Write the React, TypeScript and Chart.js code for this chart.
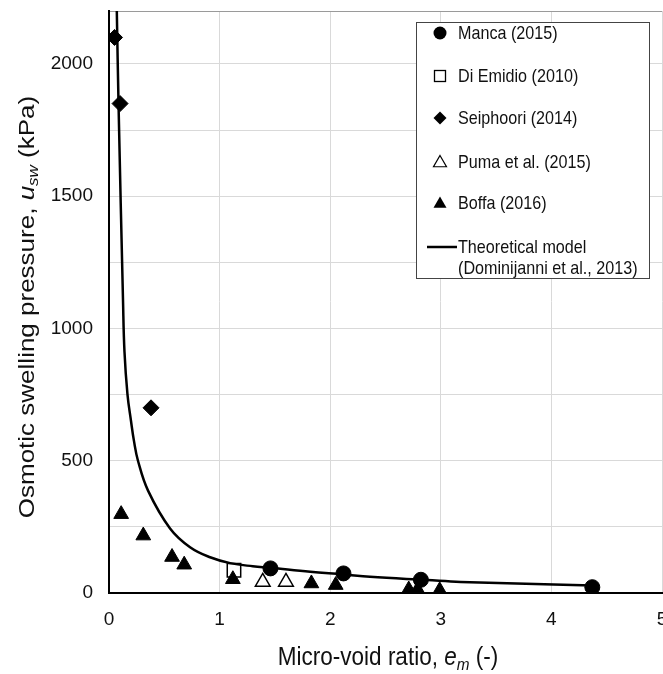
import React, { useEffect, useRef } from 'react';
import { Chart, registerables } from 'chart.js';

Chart.register(...registerables);

const FONT = "'Liberation Sans', Arial, sans-serif";
const NARROW = "'Liberation Sans Narrow', 'Arial Narrow', 'Liberation Sans', Arial, sans-serif";

// ---- data ----
const mancaX = [1.46, 2.12, 2.82, 4.37];
const mancaY = [93, 74, 50, 22];

const diEmidioX = [1.13];
const diEmidioY = [86];

const seiphooriX = [0.05, 0.1, 0.38];
const seiphooriY = [2100, 1850, 700];

const pumaX = [1.39, 1.6];
const pumaY = [42, 42];

const boffaX = [0.11, 0.31, 0.57, 0.68, 1.12, 1.83, 2.05, 2.71, 2.79, 2.99];
const boffaY = [298, 217, 136, 107, 52, 36, 30, 13, 13, 10];

const modelX = [0.0706, 0.086, 0.127, 0.14, 0.167, 0.199, 0.226, 0.262, 0.353, 0.552, 0.733, 0.914, 1.095, 1.3, 1.46, 1.82, 2.12, 2.36, 2.875, 3.18, 4.02, 4.37];
const modelY = [2200, 1851, 1100, 912, 751, 650, 574, 500, 387, 244, 173, 135, 113, 101, 95, 80, 70, 61, 49, 42, 32, 28];

const xMin = 0;
const xMax = 5;
const xStep = 1;
const yMin = 0;
const yMax = 2200;
const yTickValues = [0, 250, 500, 750, 1000, 1250, 1500, 1750, 2000, 2200];
const yLabelValues = [0, 500, 1000, 1500, 2000];

const legendLabels = [
  'Manca (2015)',
  'Di Emidio (2010)',
  'Seiphoori (2014)',
  'Puma et al. (2015)',
  'Boffa (2016)',
  'Theoretical model',
  '(Dominijanni et al., 2013)',
];

const zip = (xs: number[], ys: number[]) => xs.map((x, i) => ({ x, y: ys[i] }));

function drawScaledText(
  ctx: CanvasRenderingContext2D,
  parts: { t: string; font: string; dy?: number }[],
  x: number,
  y: number,
  align: 'left' | 'center',
  sx: number
) {
  let total = 0;
  const widths = parts.map((p) => {
    ctx.font = p.font;
    const w = ctx.measureText(p.t).width;
    total += w;
    return w;
  });
  ctx.save();
  ctx.translate(x, y);
  ctx.scale(sx, 1);
  let cx = align === 'center' ? -total / 2 : 0;
  parts.forEach((p, i) => {
    ctx.font = p.font;
    ctx.fillText(p.t, cx, p.dy || 0);
    cx += widths[i];
  });
  ctx.restore();
}

const customPlugin = {
  id: 'customDraw',
  afterDraw(chart: any) {
    const ctx: CanvasRenderingContext2D = chart.ctx;
    ctx.save();
    ctx.fillStyle = '#111';
    ctx.textBaseline = 'alphabetic';
    ctx.textAlign = 'left';

    // x axis title
    drawScaledText(
      ctx,
      [
        { t: 'Micro-void ratio, ', font: `25px ${FONT}` },
        { t: 'e', font: `italic 25px ${FONT}` },
        { t: 'm', font: `italic 17px ${FONT}`, dy: 5 },
        { t: ' (-)', font: `25px ${FONT}` },
      ],
      388,
      665,
      'center',
      0.9
    );

    // y axis title (rotated)
    ctx.save();
    ctx.translate(34, 307);
    ctx.scale(0.82, 1);
    ctx.rotate(-Math.PI / 2);
    const yParts = [
      { t: 'Osmotic swelling pressure, ', font: `26px ${FONT}`, dy: 0 },
      { t: 'u', font: `italic 26px ${FONT}`, dy: 0 },
      { t: 'sw', font: `italic 17px ${FONT}`, dy: 5 },
      { t: ' (kPa)', font: `26px ${FONT}`, dy: 0 },
    ];
    let tot = 0;
    const ws = yParts.map((p) => {
      ctx.font = p.font;
      const w = ctx.measureText(p.t).width;
      tot += w;
      return w;
    });
    let cx = -tot / 2;
    yParts.forEach((p, i) => {
      ctx.font = p.font;
      ctx.fillText(p.t, cx, p.dy);
      cx += ws[i];
    });
    ctx.restore();

    // legend
    const bx = 416.5, by = 22.5, bw = 233, bh = 256;
    ctx.fillStyle = '#fff';
    ctx.fillRect(bx, by, bw, bh);
    ctx.strokeStyle = '#444';
    ctx.lineWidth = 1;
    ctx.strokeRect(bx, by, bw, bh);

    const mx = 440;
    const rows = [33, 76, 118, 162, 203, 247, 268];
    ctx.fillStyle = '#000';
    ctx.strokeStyle = '#000';
    ctx.beginPath();
    ctx.arc(mx, rows[0], 6.5, 0, Math.PI * 2);
    ctx.fill();
    ctx.lineWidth = 1.3;
    ctx.strokeRect(mx - 5.5, rows[1] - 5.5, 11, 11);
    ctx.beginPath();
    ctx.moveTo(mx, rows[2] - 6.5);
    ctx.lineTo(mx + 6.5, rows[2]);
    ctx.lineTo(mx, rows[2] + 6.5);
    ctx.lineTo(mx - 6.5, rows[2]);
    ctx.closePath();
    ctx.fill();
    const tri = (cy: number, fill: boolean) => {
      const r = 7.5;
      ctx.beginPath();
      for (let k = 0; k < 3; k++) {
        const a = (k * 2 * Math.PI) / 3;
        const px = mx + Math.sin(a) * r;
        const py = cy + 1 - Math.cos(a) * r;
        if (k === 0) ctx.moveTo(px, py);
        else ctx.lineTo(px, py);
      }
      ctx.closePath();
      if (fill) ctx.fill();
      else {
        ctx.lineWidth = 1.2;
        ctx.stroke();
      }
    };
    tri(rows[3], false);
    tri(rows[4], true);
    ctx.lineWidth = 2.5;
    ctx.beginPath();
    ctx.moveTo(427, rows[5]);
    ctx.lineTo(457, rows[5]);
    ctx.stroke();

    ctx.fillStyle = '#111';
    ctx.textBaseline = 'middle';
    legendLabels.forEach((lab, i) => {
      drawScaledText(ctx, [{ t: lab, font: `19px ${FONT}` }], 458, rows[i] + 1, 'left', 0.85);
    });
    ctx.restore();
  },
};

export default function App() {
  const ref = useRef<HTMLCanvasElement | null>(null);

  useEffect(() => {
    if (!ref.current) return;
    const chart = new Chart(ref.current, {
      type: 'scatter',
      data: {
        datasets: [
          {
            label: legendLabels[0],
            data: zip(mancaX, mancaY),
            pointStyle: 'circle',
            pointRadius: 7.5,
            backgroundColor: '#000',
            borderColor: '#000',
            borderWidth: 1,
          },
          {
            label: legendLabels[2],
            data: zip(seiphooriX, seiphooriY),
            pointStyle: 'rectRot',
            pointRadius: 8,
            backgroundColor: '#000',
            borderColor: '#000',
            borderWidth: 1,
          },
          {
            label: legendLabels[1],
            data: zip(diEmidioX, diEmidioY),
            pointStyle: 'rect',
            pointRadius: 9.5,
            backgroundColor: 'rgba(255,255,255,0)',
            borderColor: '#000',
            borderWidth: 1.5,
          },
          {
            label: legendLabels[3],
            data: zip(pumaX, pumaY),
            pointStyle: 'triangle',
            pointRadius: 8.5,
            backgroundColor: '#fff',
            borderColor: '#000',
            borderWidth: 1.5,
          },
          {
            label: legendLabels[4],
            data: zip(boffaX, boffaY),
            pointStyle: 'triangle',
            pointRadius: 8.5,
            backgroundColor: '#000',
            borderColor: '#000',
            borderWidth: 1,
          },
          {
            type: 'line',
            label: legendLabels[5],
            data: zip(modelX, modelY),
            showLine: true,
            borderColor: '#000',
            borderWidth: 2.5,
            pointRadius: 0,
            fill: false,
            tension: 0.4,
          } as any,
        ],
      },
      options: {
        responsive: false,
        animation: false,
        devicePixelRatio: 1,
        layout: { padding: { top: 7, right: 58, left: 0, bottom: 0 } },
        plugins: {
          legend: { display: false },
          tooltip: { enabled: false },
        },
        scales: {
          x: {
            type: 'linear',
            min: xMin,
            max: xMax,
            ticks: {
              stepSize: xStep,
              padding: 15,
              color: '#111',
              font: { family: NARROW, size: 19 },
              maxRotation: 0,
            },
            grid: { color: '#d9d9d9', lineWidth: 1, drawTicks: false },
            border: { color: '#000', width: 2 },
            afterFit: (s: any) => {
              s.height = 81;
              s.paddingLeft = 0;
              s.paddingRight = 0;
            },
          },
          y: {
            type: 'linear',
            min: yMin,
            max: yMax,
            afterBuildTicks: (s: any) => {
              s.ticks = yTickValues.map((v) => ({ value: v }));
            },
            ticks: {
              padding: 16,
              color: '#111',
              font: { family: NARROW, size: 19 },
              callback: (v: any) => (yLabelValues.includes(Number(v)) ? String(v) : ''),
            },
            grid: {
              color: (c: any) => (c.tick && c.tick.value === yMax ? '#9a9a9a' : '#d9d9d9'),
              lineWidth: 1,
              drawTicks: false,
            },
            border: { color: '#000', width: 2 },
            afterFit: (s: any) => {
              s.width = 109;
              s.paddingTop = 0;
              s.paddingBottom = 0;
            },
          },
        },
      },
      plugins: [customPlugin],
    });
    return () => chart.destroy();
  }, []);

  return (
    <div style={{ position: 'absolute', left: 0, top: 0, width: 663, height: 674, overflow: 'hidden', background: '#fff' }}>
      <canvas ref={ref} width={720} height={674} style={{ width: 720, height: 674, display: 'block' }} />
    </div>
  );
}
